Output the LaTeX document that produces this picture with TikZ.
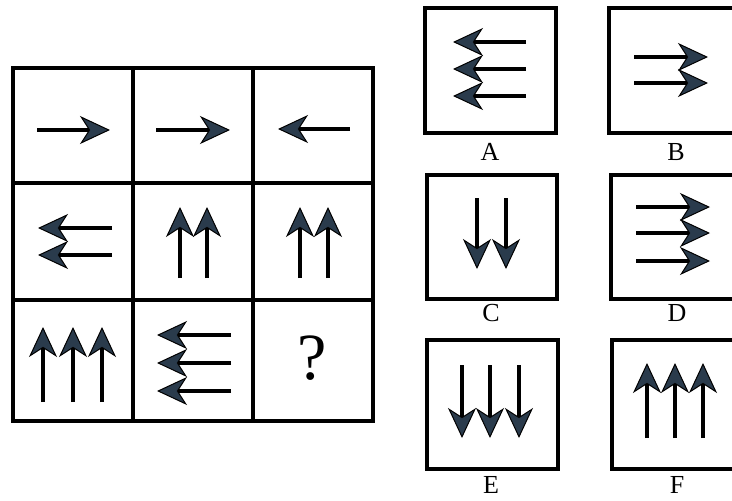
\documentclass[tikz,border=0pt]{standalone}
\usetikzlibrary{arrows.meta}
\usepackage{fontspec}
\setmainfont{Liberation Serif}
\definecolor{headfill}{HTML}{2A3B4C}
\begin{document}
\begin{tikzpicture}[x=1pt,y=-1pt,
  frame/.style={draw=black,line width=3.6pt},
  arr/.style={draw=black,line width=3.4pt,
    -{Stealth[length=30pt,width=28pt,inset=9pt,line width=1pt,fill=headfill]}},
  optbox/.style={frame,minimum width=#1,minimum height=125pt,inner sep=0pt,anchor=north west},
  lbl/.style={font=\fontsize{26}{26}\selectfont}]
\useasboundingbox (0,0) rectangle (732,501);
\clip (0,0) rectangle (732,501);
% grid
\draw[frame] (13,68) rectangle (373,421);
\draw[frame] (133,68) -- (133,421) (253,68) -- (253,421)
             (13,183) -- (373,183) (13,300) -- (373,300);
% row 1
\draw[arr] (37,130) -- (110,130);
\draw[arr] (156,130) -- (230,130);
\draw[arr] (350,129) -- (278,129);
% row 2
\draw[arr] (112,228) -- (38,228);
\draw[arr] (112,255) -- (38,255);
\draw[arr] (180,278) -- (180,207);
\draw[arr] (207,278) -- (207,207);
\draw[arr] (300,278) -- (300,207);
\draw[arr] (328,278) -- (328,207);
% row 3
\draw[arr] (43,402) -- (43,327);
\draw[arr] (73,402) -- (73,327);
\draw[arr] (102,402) -- (102,327);
\draw[arr] (231,335) -- (157,335);
\draw[arr] (231,363) -- (157,363);
\draw[arr] (231,391) -- (157,391);
\node[font=\fontsize{66}{66}\selectfont] (q) at (312,358) {?};
% options
\node[optbox=131pt] (A) at (423,6) {};
\node[optbox=133pt] (B) at (607,6) {};
\node[optbox=130pt,minimum height=124pt] (C) at (425,173) {};
\node[optbox=131pt,minimum height=124pt] (D) at (609,173) {};
\node[optbox=131pt,minimum height=129pt] (E) at (425,338) {};
\node[optbox=130pt,minimum height=129pt] (F) at (610,338) {};
\node[lbl] (la) at (490,152) {A};
\node[lbl] (lb) at (676,152) {B};
\node[lbl] (lc) at (491,313) {C};
\node[lbl] (ld) at (677,313) {D};
\node[lbl] (le) at (491,485) {E};
\node[lbl] (lf) at (677,485) {F};
% A
\draw[arr] (526,42) -- (453,42);
\draw[arr] (526,69) -- (453,69);
\draw[arr] (526,96) -- (453,96);
% B
\draw[arr] (634,57) -- (708,57);
\draw[arr] (634,83) -- (708,83);
% C
\draw[arr] (477,198) -- (477,269);
\draw[arr] (506,198) -- (506,269);
% D
\draw[arr] (636,207) -- (710,207);
\draw[arr] (636,233) -- (710,233);
\draw[arr] (636,261) -- (710,261);
% E
\draw[arr] (462,365) -- (462,438);
\draw[arr] (490,365) -- (490,438);
\draw[arr] (519,365) -- (519,438);
% F
\draw[arr] (647,438) -- (647,363);
\draw[arr] (675,438) -- (675,363);
\draw[arr] (703,438) -- (703,363);
\end{tikzpicture}
\end{document}
